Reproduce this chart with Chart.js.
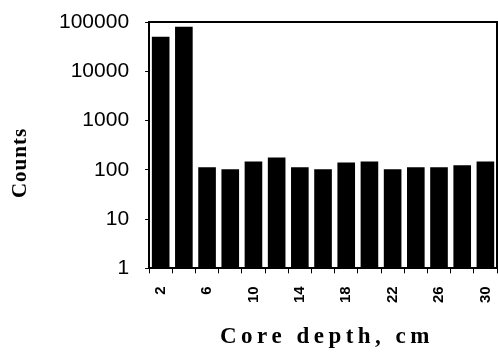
<!DOCTYPE html>
<html>
<head>
<meta charset="utf-8">
<script src="https://cdn.jsdelivr.net/npm/chart.js@4"></script>
<style>
  html, body { margin: 0; padding: 0; background: #fff; }
  #wrap { width: 498px; height: 355px; position: relative; }
</style>
</head>
<body>
<div id="wrap"><canvas id="chart"></canvas></div>
<script>
// core depth (cm) and counts
const depths = ['2', '4', '6', '8', '10', '12', '14', '16', '18', '20', '22', '24', '26', '28', '30'];
const counts = [50000, 80000, 112, 102, 148, 178, 112, 102, 141, 148, 102, 112, 112, 123, 148];
const yTicks = [1, 10, 100, 1000, 10000, 100000];
const xTitle = 'Core depth, cm';
const yTitle = 'Counts';

// box round the plot area plus the two axis titles (spaced letters)
const frame = {
    id: 'frame',
    afterDraw(chart) {
        const a = chart.chartArea;
        const ctx = chart.ctx;
        ctx.save();
        ctx.strokeStyle = '#000';
        ctx.lineWidth = 2;
        ctx.beginPath();
        ctx.moveTo(a.left, a.top);
        ctx.lineTo(a.right, a.top);
        ctx.lineTo(a.right, a.bottom);
        ctx.stroke();

        ctx.fillStyle = '#000';
        ctx.textAlign = 'center';
        ctx.textBaseline = 'middle';
        ctx.font = 'bold 23px "Liberation Serif"';
        ctx.letterSpacing = '4.5px';
        ctx.fillText(xTitle, 327, 337);

        ctx.translate(21, 163);
        ctx.rotate(-Math.PI / 2);
        ctx.font = 'bold 21px "Liberation Serif"';
        ctx.letterSpacing = '1px';
        ctx.fillText(yTitle, 0, 0);
        ctx.restore();
    }
};

new Chart(document.getElementById('chart'), {
    type: 'bar',
    data: {
        labels: depths,
        datasets: [{
            data: counts,
            backgroundColor: '#000',
            barPercentage: 0.76,
            categoryPercentage: 1.0
        }]
    },
    options: {
        responsive: true,
        maintainAspectRatio: false,
        animation: false,
        layout: { padding: { top: 22, right: 1, left: 43, bottom: 39 } },
        plugins: { legend: { display: false }, tooltip: { enabled: false } },
        scales: {
            x: {
                afterFit: function (s) { s.paddingLeft = 0; s.paddingRight = 0; },
                grid: { display: true, drawOnChartArea: false, drawTicks: true, tickLength: 5, color: '#000' },
                border: { color: '#000', width: 2 },
                ticks: {
                    autoSkip: false,
                    maxRotation: 90,
                    minRotation: 90,
                    padding: 13,
                    color: '#000',
                    font: { family: 'Liberation Sans', size: 15, weight: 'bold' },
                    callback: function (v, i) { return i % 2 === 0 ? depths[i] : ''; }
                }
            },
            y: {
                type: 'logarithmic',
                min: 1,
                max: 100000,
                afterBuildTicks: function (axis) {
                    axis.ticks = yTicks.map(function (v) { return { value: v }; });
                },
                afterFit: function (s) { s.paddingTop = 0; s.paddingBottom = 0; },
                grid: { display: true, drawOnChartArea: false, drawTicks: true, tickLength: 4, color: '#000' },
                border: { color: '#000', width: 2 },
                ticks: {
                    color: '#000',
                    padding: 16,
                    font: { family: 'Liberation Sans', size: 21 },
                    callback: function (v) { return String(v); }
                }
            }
        }
    },
    plugins: [frame]
});
</script>
</body>
</html>
